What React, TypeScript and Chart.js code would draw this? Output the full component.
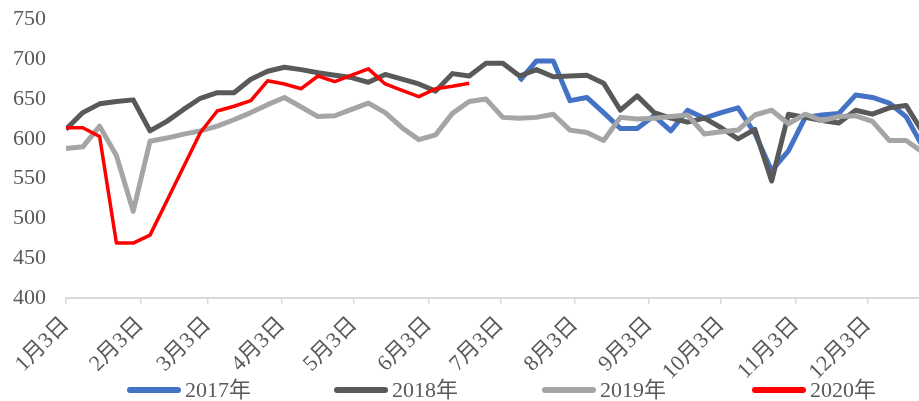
import React, { useEffect, useRef } from "react";
import { Chart, registerables } from "chart.js";

Chart.register(...registerables);

// Weekly sample positions, in days after 1月3日
const weekDays = [
  0, 7, 14, 21, 28, 35, 42, 49, 56, 63, 70, 77, 84, 91, 98, 105, 112, 119, 126, 133,
  140, 147, 154, 161, 168, 175, 182, 189, 196, 203, 210, 217, 224, 231, 238, 245, 252,
  259, 266, 273, 280, 287, 294, 301, 308, 315, 322, 329, 336, 343, 350, 357,
];

// Month tick positions (days after 1月3日) and their labels
const monthTickDays = [0, 31, 59, 90, 120, 151, 181, 212, 243, 273, 304, 334];
const monthTickLabels = [
  "1月3日", "2月3日", "3月3日", "4月3日", "5月3日", "6月3日",
  "7月3日", "8月3日", "9月3日", "10月3日", "11月3日", "12月3日",
];

const seriesNames = ["2017年", "2018年", "2019年", "2020年"];
const seriesColors = ["#4472C4", "#595959", "#A5A5A5", "#FF0000"];

const s2017 = [
  null, null, null, null, null, null, null, null, null, null, null, null, null, null,
  null, null, null, null, null, null, null, null, null, null, null, null, null,
  673, 698, 698, 648, 652, 633, 613, 613, 629, 610, 636, 626, 633, 639, 607, 560,
  585, 627, 630, 632, 655, 652, 645, 628, 590,
];
const s2018 = [
  612, 633, 644, 647, 649, 610, 622, 637, 651, 658, 658, 675, 685, 690, 687, 683, 680,
  677, 671, 681, 675, 669, 660, 682, 679, 695, 695, 679, 687, 678, 679, 680, 670, 636,
  654, 633, 626, 621, 626, 614, 600, 612, 547, 631, 627, 623, 620, 636, 631, 639, 642, 608,
];
const s2019 = [
  588, 590, 616, 579, 509, 597, 601, 606, 610, 616, 624, 633, 643, 652, 640, 628, 629,
  637, 645, 633, 614, 599, 605, 632, 647, 650, 627, 626, 627, 631, 611, 608, 598, 627,
  625, 626, 628, 630, 606, 609, 611, 630, 636, 619, 631, 623, 628, 629, 622, 598, 598, 583,
];
const s2020 = [
  614, 614, 603, 469, 469, 479, 522, 565, 608, 635, 641, 648, 673, 669, 663, 679, 672,
  680, 688, 669, 661, 653, 663, 666, 670, null, null, null, null, null, null, null, null,
  null, null, null, null, null, null, null, null, null, null, null, null, null, null,
  null, null, null, null, null,
];

const yMin = 400;
const yMax = 750;
const yStep = 50;

const FONT_FAMILY =
  '"Times New Roman", "Liberation Serif", "Noto Sans CJK SC", serif';

const W = 919;
const H = 401;

function toPoints(values: (number | null)[]) {
  return weekDays.map((d, i) => ({ x: d, y: values[i] }));
}

export default function App() {
  const canvasRef = useRef<HTMLCanvasElement | null>(null);

  useEffect(() => {
    document.body.style.margin = "0";
    const canvas = canvasRef.current;
    if (!canvas) return;
    const all = [s2017, s2018, s2019, s2020];
    const widths = [5, 5, 5, 3.5];
    const chart = new Chart(canvas, {
      type: "line",
      data: {
        datasets: all.map((vals, i) => ({
          label: seriesNames[i],
          data: toPoints(vals),
          borderColor: seriesColors[i],
          backgroundColor: seriesColors[i],
          borderWidth: widths[i],
          pointRadius: 0,
          pointHoverRadius: 0,
          tension: 0,
          spanGaps: false,
          borderJoinStyle: "round",
          borderCapStyle: "butt",
          order: all.length - i,
        })),
      },
      options: {
        responsive: false,
        animation: false,
        devicePixelRatio: 1,
        layout: { padding: { top: 19.5, right: 0, bottom: 0, left: 0 } },
        plugins: {
          legend: { display: false },
          tooltip: { enabled: false },
          title: { display: false },
        },
        scales: {
          x: {
            type: "linear",
            min: 0,
            max: 355.4,
            afterBuildTicks: (scale: any) => {
              scale.ticks = monthTickDays.map((v) => ({ value: v }));
            },
            afterFit: (scale: any) => {
              scale.height = H - 298;
            },
            ticks: {
              autoSkip: false,
              maxRotation: 45,
              minRotation: 45,
              padding: 8,
              color: "#595959",
              font: { family: FONT_FAMILY, size: 22 },
              callback: (_v: any, index: number) => monthTickLabels[index],
            },
            grid: {
              display: true,
              drawOnChartArea: false,
              drawTicks: true,
              tickLength: 6,
              color: "#D9D9D9",
              lineWidth: 1.5,
            },
            border: { display: true, color: "#D9D9D9", width: 2 },
          },
          y: {
            min: yMin,
            max: yMax,
            afterFit: (scale: any) => {
              scale.width = 66;
            },
            ticks: {
              stepSize: yStep,
              padding: 0,
              color: "#595959",
              font: { family: FONT_FAMILY, size: 22 },
            },
            grid: { display: false, drawTicks: true, tickLength: 20 },
            border: { display: false },
          },
        },
      },
    } as any);
    return () => chart.destroy();
  }, []);

  const legendLefts = [127, 334, 542, 752];

  return (
    <div style={{ position: "relative", width: W, height: H, background: "#fff" }}>
      <canvas ref={canvasRef} width={W} height={H} style={{ display: "block" }} />
      {seriesNames.map((name, i) => (
        <div
          key={name}
          style={{
            position: "absolute",
            left: legendLefts[i],
            top: 377,
            height: 26,
            display: "flex",
            alignItems: "center",
            fontFamily: FONT_FAMILY,
            fontSize: 22,
            color: "#595959",
            whiteSpace: "nowrap",
            lineHeight: "26px",
          }}
        >
          <span
            style={{
              display: "inline-block",
              width: 54,
              height: 6,
              borderRadius: 3,
              background: seriesColors[i],
              marginRight: 4,
            }}
          />
          <span>{name}</span>
        </div>
      ))}
    </div>
  );
}
